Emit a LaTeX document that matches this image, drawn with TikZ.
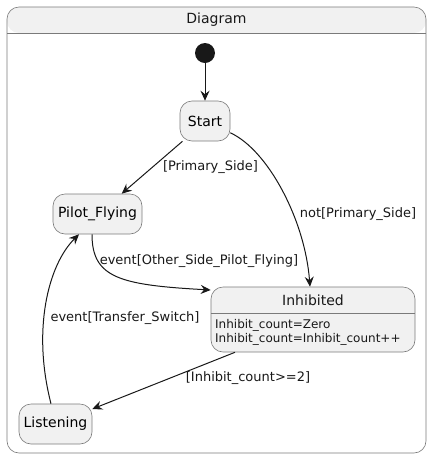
\documentclass[tikz,border=0pt]{standalone}
\usepackage{fontspec}
\setmainfont{DejaVu Sans}
\usetikzlibrary{arrows.meta,calc}
\definecolor{ink}{HTML}{181818}
\definecolor{edge}{HTML}{7A7A7A}
\definecolor{statefill}{HTML}{F1F1F1}
\tikzset{
  statebox/.style={draw=edge, line width=0.6pt, fill=statefill, rounded corners=12pt, inner sep=0pt, font=\fontsize{14}{16}\selectfont},
  trans/.style={draw=ink, line width=1pt, -{Stealth[length=10pt,width=9pt,inset=3.5pt]}},
  lbl/.style={font=\fontsize{13}{15}\selectfont, text=ink, inner sep=0pt},
}
\begin{document}
\begin{tikzpicture}[x=1pt,y=-1pt]
\useasboundingbox (0,0) rectangle (432,459);
% outer frame
\fill[statefill, rounded corners=12pt] (7,33) -- (7,7) -- (426,7) -- (426,33) -- cycle;
\draw[edge, line width=0.6pt, rounded corners=12pt] (7,7) rectangle (426,453);
\draw[edge, line width=0.6pt] (7,33) -- (426,33);
\node[lbl, font=\fontsize{14}{16}\selectfont] (title) at (216.5,20) {Diagram};
% states
\node[circle, fill=ink, minimum size=20pt, inner sep=0pt] (init) at (205,53) {};
\node[statebox, minimum width=50pt, minimum height=40pt] (start) at (205,121) {Start};
\node[statebox, minimum width=89pt, minimum height=40pt] (pf) at (97.5,214) {Pilot\_Flying};
\node[statebox, minimum width=73pt, minimum height=40pt] (lis) at (55.5,424) {Listening};
\node[statebox, minimum width=204pt, minimum height=65pt] (inh) at (313,319.5) {};
\draw[edge, line width=0.6pt] (inh.west |- 0,313) coordinate (hl) -- (inh.east |- 0,313) coordinate (hr);
\node[lbl, font=\fontsize{14}{16}\selectfont] (inht) at (313,300) {Inhibited};
\node[lbl, font=\fontsize{12}{14.5}\selectfont, anchor=north west, align=left] (inhb) at (215,319) {Inhibit\_count=Zero\\Inhibit\_count=Inhibit\_count++};
% transitions
\draw[trans] (init) -- (start);
\draw[trans] (start.-138) -- (pf.40);
\draw[trans] (start.-25) .. controls (268,150) and (305,220) .. ($(inh.north)+(-3,0)$);
\draw[trans] ($(pf.south)+(-5.5,0)$) .. controls (92,278) and (120,285) .. ($(inh.west)+(0,-29.5)$);
\draw[trans] ($(inh.south)+(-78,0)$) -- ($(lis.east)+(0,-15)$);
\draw[trans] ($(lis.north)+(-4.5,0)$) .. controls (32,330) and (48,265) .. ($(pf.south)+(-18.5,0)$);
% labels
\node[lbl] (l1) at (210.5,167) {[Primary\_Side]};
\node[lbl] (l2) at (358,214) {not[Primary\_Side]};
\node[lbl] (l3) at (199,261) {event[Other\_Side\_Pilot\_Flying]};
\node[lbl] (l4) at (125,318) {event[Transfer\_Switch]};
\node[lbl] (l5) at (248,378) {[Inhibit\_count>=2]};
\end{tikzpicture}
\end{document}
